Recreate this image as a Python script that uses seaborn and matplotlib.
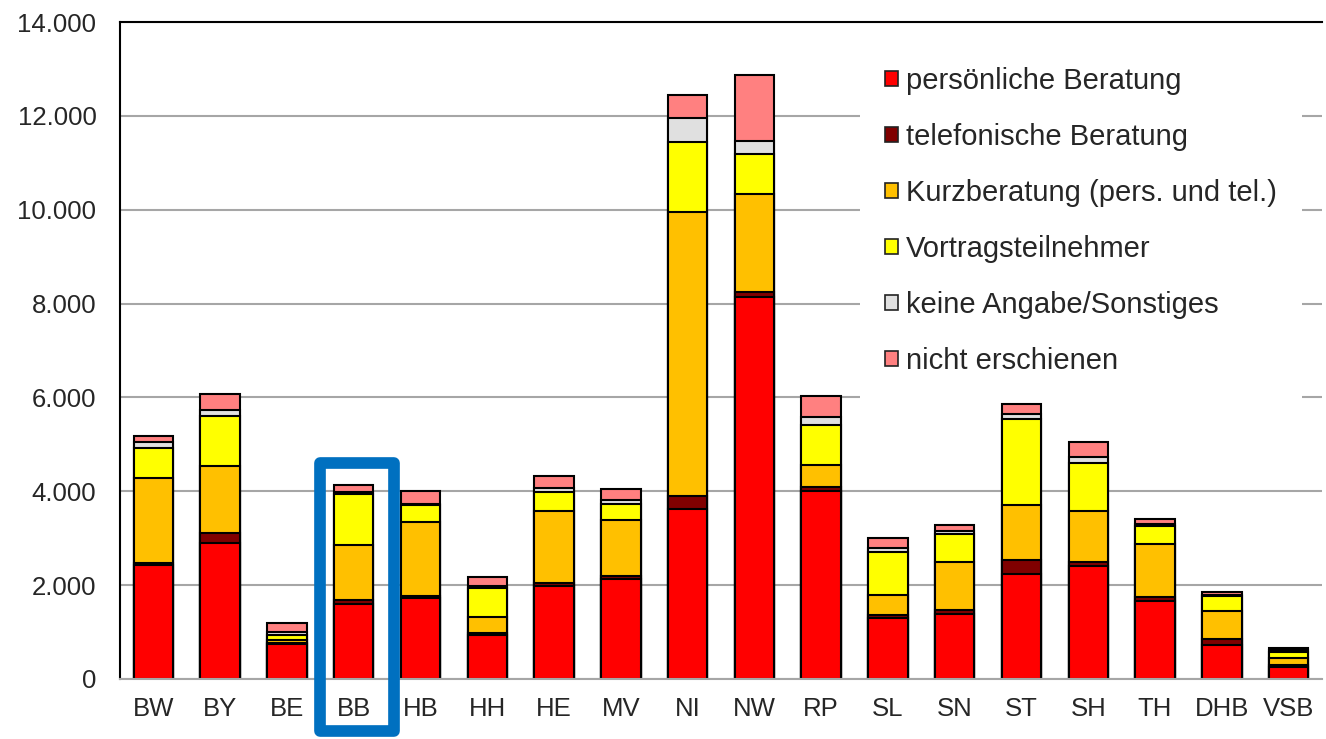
import numpy as np
import pandas as pd
import seaborn as sns
import matplotlib.pyplot as plt
from matplotlib.patches import Patch, Rectangle
from matplotlib.ticker import FuncFormatter

laender = ['BW', 'BY', 'BE', 'BB', 'HB', 'HH', 'HE', 'MV', 'NI',
           'NW', 'RP', 'SL', 'SN', 'ST', 'SH', 'TH', 'DHB', 'VSB']

persoenlich = [2420, 2900, 740, 1600, 1730, 935, 1990, 2140, 3620,
               8150, 4010, 1310, 1380, 2230, 2410, 1670, 720, 265]
telefonisch = [50, 220, 30, 85, 40, 40, 50, 65, 275,
               100, 90, 50, 90, 300, 85, 85, 130, 25]
kurzberatung = [1820, 1420, 70, 1160, 1565, 340, 1535, 1175, 6050,
                2085, 450, 420, 1020, 1175, 1075, 1120, 600, 150]
vortrag = [640, 1070, 90, 1100, 370, 630, 400, 350, 1500,
           850, 870, 925, 600, 1830, 1030, 375, 310, 130]
keine_angabe = [110, 115, 70, 40, 30, 40, 105, 90, 515,
                275, 170, 85, 55, 105, 140, 55, 35, 40]
nicht_erschienen = [145, 355, 200, 155, 280, 180, 250, 235, 490,
                    1410, 450, 205, 130, 215, 310, 100, 65, 45]

series_names = ['persönliche Beratung', 'telefonische Beratung',
                'Kurzberatung (pers. und tel.)', 'Vortragsteilnehmer',
                'keine Angabe/Sonstiges', 'nicht erschienen']
colors = ['#FF0000', '#800000', '#FFC000', '#FFFF00', '#E0E0E0', '#FF8080']

df = pd.DataFrame({
    'land': laender,
    series_names[0]: persoenlich,
    series_names[1]: telefonisch,
    series_names[2]: kurzberatung,
    series_names[3]: vortrag,
    series_names[4]: keine_angabe,
    series_names[5]: nicht_erschienen,
})
cum = df[series_names].cumsum(axis=1)

sns.set_style('white')
plt.rcParams['font.family'] = ['Liberation Sans', 'DejaVu Sans']

fig = plt.figure(figsize=(13.26, 7.39), dpi=100)
ax = fig.add_axes([120 / 1326, 1 - 679 / 739, 1202 / 1326, (679 - 22) / 739])

# stacked bars: draw cumulative totals from the top layer downwards
for name, col in reversed(list(zip(series_names, colors))):
    sns.barplot(x=df['land'], y=cum[name], color=col, saturation=1,
                edgecolor='black', linewidth=1.5, width=0.59, ax=ax)

ax.set_ylim(0, 14000)
ax.set_xlim(-0.5, len(laender) - 0.5)
ax.set_yticks(np.arange(0, 14001, 2000))
ax.yaxis.set_major_formatter(FuncFormatter(lambda v, p: f"{int(v):,}".replace(',', '.')))
ax.set_xlabel('')
ax.set_ylabel('')
ax.yaxis.grid(True, color='#A6A6A6', linewidth=1.5)
ax.set_axisbelow(True)
ax.tick_params(axis='y', length=0, pad=17, labelsize=18.5)
ax.tick_params(axis='x', length=0, pad=13, labelsize=18.5)

for side in ['left', 'top']:
    ax.spines[side].set_color('black')
    ax.spines[side].set_linewidth(1.5)
ax.spines['bottom'].set_color('#A6A6A6')
ax.spines['bottom'].set_linewidth(1.5)
ax.spines['right'].set_visible(False)

handles = [Patch(facecolor=c, edgecolor='#222222', linewidth=1.2) for c in colors]
leg = ax.legend(handles, series_names, loc='upper left',
                bbox_to_anchor=(860 / 1326, 1 - 42 / 739), bbox_transform=fig.transFigure,
                fontsize=21, frameon=True, facecolor='white', edgecolor='none',
                framealpha=1, fancybox=False, handlelength=0.44, handleheight=0.44,
                handletextpad=0.3, labelspacing=0.96, borderpad=0.85, borderaxespad=0)

# highlight box around BB
ax.add_patch(Rectangle((2.5, -1110), 1.108, 5710, fill=False, edgecolor='#0070C0',
                       linewidth=8.4, joinstyle='round', clip_on=False, zorder=5))

fig.savefig('out.png', dpi=100)
